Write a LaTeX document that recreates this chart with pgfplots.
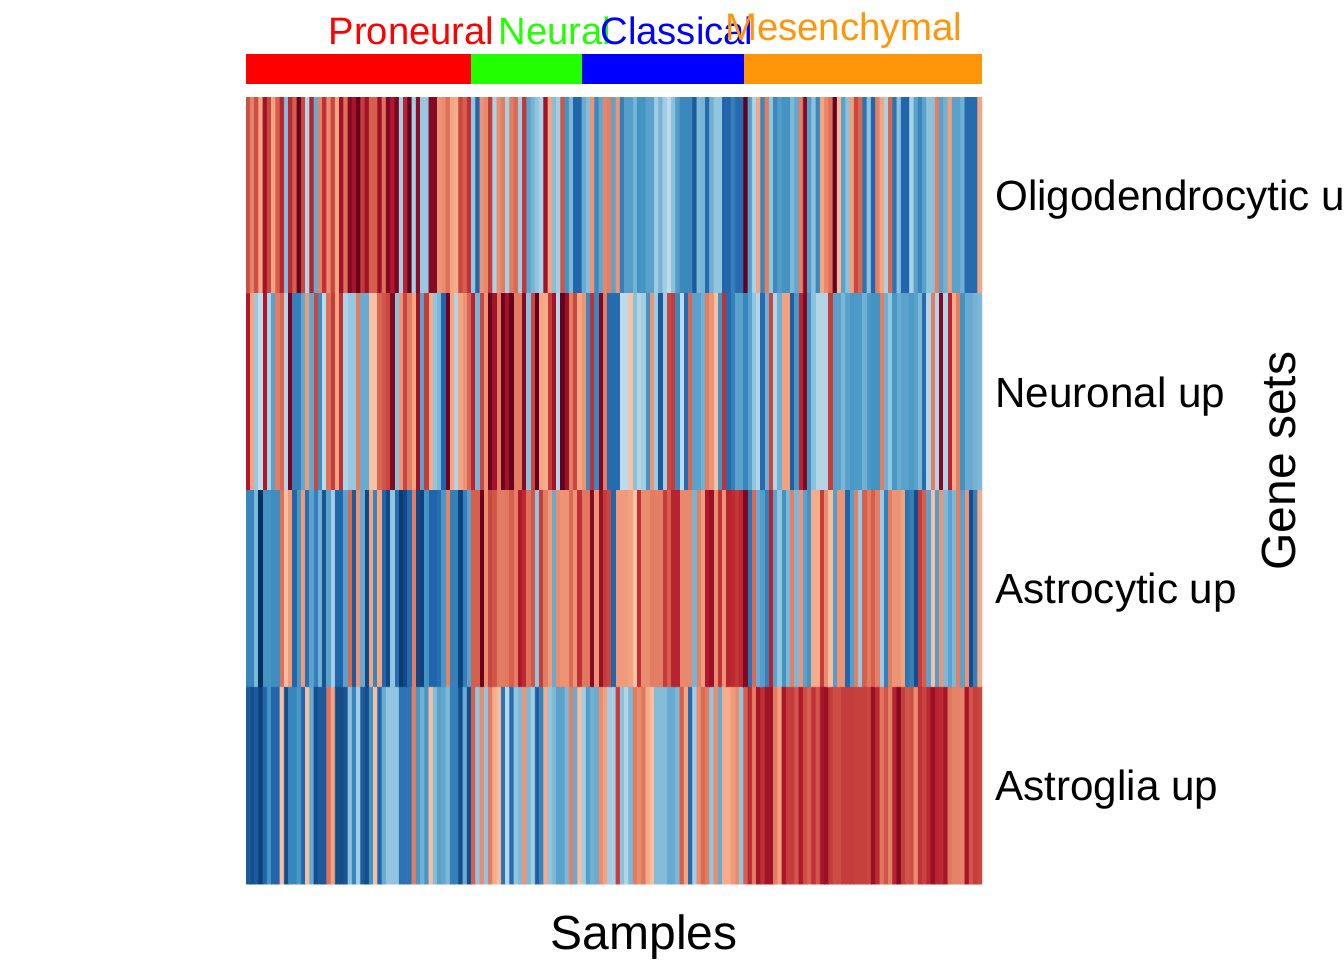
\documentclass[border=0pt]{standalone}
\usepackage{fontspec}
\setmainfont{Liberation Sans}
\usepackage{pgfplots}
\pgfplotsset{compat=1.18}
\definecolor{pn}{RGB}{255,0,0}
\definecolor{ne}{RGB}{33,255,0}
\definecolor{cl}{RGB}{0,0,255}
\definecolor{me}{RGB}{255,150,9}
\begin{document}
% 1 px of the reference = 0.5pt, origin at the bottom left
\begin{tikzpicture}[x=0.5pt,y=0.5pt]
\path[use as bounding box] (0,0) rectangle (1344,960);
% subtype bar
\begin{axis}[at={(123pt,438pt)},anchor=south west,scale only axis,width=368pt,height=15pt,
  hide axis,xmin=0,xmax=173,ymin=0,ymax=1,clip=true]
  \addplot[fill=pn,draw=none] coordinates {(0,0)(53,0)(53,1)(0,1)} -- cycle;
  \addplot[fill=ne,draw=none] coordinates {(53,0)(79,0)(79,1)(53,1)} -- cycle;
  \addplot[fill=cl,draw=none] coordinates {(79,0)(117,0)(117,1)(79,1)} -- cycle;
  \addplot[fill=me,draw=none] coordinates {(117,0)(173,0)(173,1)(117,1)} -- cycle;
\end{axis}
% heatmap
\begin{axis}[at={(123pt,38pt)},anchor=south west,scale only axis,width=368pt,height=393.5pt,
  hide axis,xmin=-0.5,xmax=172.5,ymin=-0.5,ymax=3.5,y dir=reverse,
  point meta min=-1,point meta max=1,
  colormap={rdbu}{rgb255(0pt)=(5,48,97) rgb255(15pt)=(33,102,172) rgb255(32pt)=(67,147,195)
    rgb255(60pt)=(146,197,222) rgb255(80pt)=(209,229,240) rgb255(100pt)=(247,247,247)
    rgb255(120pt)=(253,219,199) rgb255(135pt)=(244,165,130) rgb255(155pt)=(214,96,77)
    rgb255(175pt)=(178,24,43) rgb255(197pt)=(103,0,31) rgb255(200pt)=(103,0,31)}]
\addplot[matrix plot*,mesh/cols=173,point meta=explicit] coordinates {
(0,0)[.6](1,0)[.45](2,0)[.6](3,0)[.35](4,0)[.8](5,0)[.62](6,0)[.35](7,0)[.55](8,0)[.72](9,0)[-.45]
(10,0)[.7](11,0)[.55](12,0)[1](13,0)[.62](14,0)[-.3](15,0)[.72](16,0)[-.55](17,0)[.45](18,0)[.68](19,0)[.42]
(20,0)[.62](21,0)[.35](22,0)[.8](23,0)[.5](24,0)[.88](25,0)[.78](26,0)[.97](27,0)[.65](28,0)[.8](29,0)[.55]
(30,0)[.55](31,0)[.82](32,0)[.5](33,0)[.9](34,0)[.75](35,0)[.92](36,0)[-.35](37,0)[.72](38,0)[1](39,0)[-.35]
(40,0)[.85](41,0)[-.38](42,0)[-.38](43,0)[.88](44,0)[.88](45,0)[.4](46,0)[.42](47,0)[.5](48,0)[.35](49,0)[.33]
(50,0)[.62](51,0)[.55](52,0)[.68](53,0)[-.4](54,0)[-.85](55,0)[.4](56,0)[.43](57,0)[.65](58,0)[-.32](59,0)[.42]
(60,0)[.47](61,0)[-.33](62,0)[.47](63,0)[.52](64,0)[-.35](65,0)[.66](66,0)[-.6](67,0)[-.5](68,0)[-.4](69,0)[-.32]
(70,0)[.8](71,0)[.35](72,0)[-.45](73,0)[-.35](74,0)[.58](75,0)[-.68](76,0)[-.47](77,0)[-.85](78,0)[-.85](79,0)[-.55]
(80,0)[-.45](81,0)[.4](82,0)[-.72](83,0)[-.57](84,0)[.44](85,0)[.46](86,0)[-.6](87,0)[.4](88,0)[-.75](89,0)[-.62]
(90,0)[-.62](91,0)[-.5](92,0)[-.68](93,0)[-.68](94,0)[-.6](95,0)[-.6](96,0)[-.36](97,0)[-.5](98,0)[-.35](99,0)[-.26]
(100,0)[-.42](101,0)[-.62](102,0)[-.72](103,0)[-.72](104,0)[-.72](105,0)[-.88](106,0)[-.47](107,0)[-.5](108,0)[-.83](109,0)[-.52]
(110,0)[-.4](111,0)[-.4](112,0)[-.85](113,0)[-.85](114,0)[-.75](115,0)[-.83](116,0)[-.83](117,0)[1](118,0)[-.62](119,0)[-.32]
(120,0)[.35](121,0)[-.72](122,0)[.47](123,0)[-.4](124,0)[-.72](125,0)[-.62](126,0)[-.68](127,0)[-.68](128,0)[-.47](129,0)[-.57]
(130,0)[.46](131,0)[.88](132,0)[-.62](133,0)[-.42](134,0)[-.72](135,0)[.35](136,0)[.43](137,0)[.5](138,0)[1](139,0)[.3]
(140,0)[-.6](141,0)[-.42](142,0)[.37](143,0)[.62](144,0)[.53](145,0)[-.8](146,0)[-.42](147,0)[-.85](148,0)[.46](149,0)[.35]
(150,0)[-.32](151,0)[.53](152,0)[-.8](153,0)[-.42](154,0)[-.85](155,0)[-.85](156,0)[-.32](157,0)[-.6](158,0)[-.73](159,0)[-.6]
(160,0)[-.42](161,0)[-.42](162,0)[.46](163,0)[-.6](164,0)[-.52](165,0)[.37](166,0)[-.6](167,0)[-.6](168,0)[-.52](169,0)[-.83]
(170,0)[-.83](171,0)[-.83](172,0)[.35]

(0,1)[.75](1,1)[.35](2,1)[-.38](3,1)[-.25](4,1)[.75](5,1)[-.32](6,1)[-.6](7,1)[.47](8,1)[.53](9,1)[-.3]
(10,1)[.92](11,1)[-.75](12,1)[-.75](13,1)[-.57](14,1)[.38](15,1)[-.57](16,1)[.62](17,1)[-.7](18,1)[-.27](19,1)[.5]
(20,1)[.65](21,1)[.35](22,1)[.68](23,1)[-.32](24,1)[-.38](25,1)[-.38](26,1)[.47](27,1)[-.55](28,1)[-.55](29,1)[.27]
(30,1)[.27](31,1)[.53](32,1)[.58](33,1)[.62](34,1)[.9](35,1)[-.42](36,1)[.4](37,1)[.62](38,1)[.47](39,1)[.35]
(40,1)[.8](41,1)[-.6](42,1)[.65](43,1)[.33](44,1)[-.4](45,1)[-.47](46,1)[-.85](47,1)[.95](48,1)[.35](49,1)[-.3]
(50,1)[.35](51,1)[.4](52,1)[.53](53,1)[.72](54,1)[-.5](55,1)[.62](56,1)[.4](57,1)[.95](58,1)[.8](59,1)[.47]
(60,1)[.95](61,1)[.8](62,1)[1](63,1)[.47](64,1)[.47](65,1)[.88](66,1)[-.42](67,1)[.62](68,1)[.97](69,1)[.35]
(70,1)[.33](71,1)[.65](72,1)[.8](73,1)[-.3](74,1)[.97](75,1)[.82](76,1)[.47](77,1)[.62](78,1)[.35](79,1)[.4]
(80,1)[-.72](81,1)[.68](82,1)[-.72](83,1)[.9](84,1)[.47](85,1)[-.83](86,1)[-.83](87,1)[-.83](88,1)[-.26](89,1)[-.26]
(90,1)[.27](91,1)[-.42](92,1)[-.3](93,1)[-.35](94,1)[-.68](95,1)[.4](96,1)[-.36](97,1)[-.88](98,1)[-.35](99,1)[.62]
(100,1)[.65](101,1)[-.72](102,1)[-.27](103,1)[-.83](104,1)[.53](105,1)[-.6](106,1)[-.6](107,1)[-.52](108,1)[.47](109,1)[.4]
(110,1)[.27](111,1)[-.68](112,1)[.68](113,1)[-.83](114,1)[-.75](115,1)[-.6](116,1)[-.6](117,1)[-.73](118,1)[-.6](119,1)[-.4]
(120,1)[-.3](121,1)[-.83](122,1)[-.52](123,1)[.62](124,1)[-.3](125,1)[-.52](126,1)[.36](127,1)[.36](128,1)[-.87](129,1)[-.66]
(130,1)[.72](131,1)[.9](132,1)[-.68](133,1)[-.42](134,1)[-.3](135,1)[-.3](136,1)[-.3](137,1)[.65](138,1)[-.6](139,1)[-.6]
(140,1)[-.47](141,1)[-.6](142,1)[-.66](143,1)[-.64](144,1)[-.64](145,1)[-.52](146,1)[-.64](147,1)[-.68](148,1)[-.68](149,1)[.47]
(150,1)[-.52](151,1)[-.4](152,1)[-.66](153,1)[-.55](154,1)[-.6](155,1)[-.6](156,1)[-.64](157,1)[-.6](158,1)[-.47](159,1)[-.83]
(160,1)[-.3](161,1)[.47](162,1)[-.3](163,1)[.88](164,1)[-.3](165,1)[.72](166,1)[.33](167,1)[.46](168,1)[-.68](169,1)[-.55]
(170,1)[-.55](171,1)[-.5](172,1)[-.47]

(0,2)[-.73](1,2)[-.73](2,2)[-.47](3,2)[-1](4,2)[-.68](5,2)[-.68](6,2)[-.7](7,2)[-.7](8,2)[.5](9,2)[.28]
(10,2)[.38](11,2)[-.85](12,2)[-.66](13,2)[.38](14,2)[-.82](15,2)[-.6](16,2)[-.75](17,2)[-.52](18,2)[-.9](19,2)[-.6]
(20,2)[-.35](21,2)[-.85](22,2)[-.85](23,2)[-.6](24,2)[.53](25,2)[-.88](26,2)[.4](27,2)[-.55](28,2)[-.93](29,2)[.35]
(30,2)[-.73](31,2)[.35](32,2)[-.85](33,2)[-.93](34,2)[-.4](35,2)[-.83](36,2)[-.97](37,2)[-.93](38,2)[-.83](39,2)[.47]
(40,2)[-.93](41,2)[-.95](42,2)[-.68](43,2)[-.85](44,2)[-.85](45,2)[-.82](46,2)[-.66](47,2)[.45](48,2)[-.75](49,2)[-.75]
(50,2)[-.95](51,2)[-.75](52,2)[-.6](53,2)[.55](54,2)[.55](55,2)[.97](56,2)[.42](57,2)[.62](58,2)[.58](59,2)[.47]
(60,2)[.47](61,2)[.48](62,2)[.55](63,2)[.46](64,2)[.75](65,2)[.7](66,2)[.5](67,2)[.58](68,2)[-.4](69,2)[.65]
(70,2)[.47](71,2)[.38](72,2)[-.55](73,2)[.42](74,2)[.4](75,2)[.4](76,2)[.52](77,2)[.4](78,2)[.68](79,2)[.48]
(80,2)[.48](81,2)[.88](82,2)[.4](83,2)[.82](84,2)[.65](85,2)[.62](86,2)[-.85](87,2)[.38](88,2)[.38](89,2)[.38]
(90,2)[.36](91,2)[.27](92,2)[.68](93,2)[.42](94,2)[.42](95,2)[.47](96,2)[.46](97,2)[.46](98,2)[.65](99,2)[.55]
(100,2)[.72](101,2)[.72](102,2)[.43](103,2)[.43](104,2)[.43](105,2)[-.5](106,2)[.46](107,2)[.37](108,2)[.75](109,2)[.82]
(110,2)[.42](111,2)[.68](112,2)[.4](113,2)[.72](114,2)[.7](115,2)[.66](116,2)[.7](117,2)[.9](118,2)[-.8](119,2)[.52]
(120,2)[-.55](121,2)[-.62](122,2)[-.75](123,2)[.72](124,2)[-.6](125,2)[-.4](126,2)[-.68](127,2)[-.47](128,2)[.46](129,2)[-.47]
(130,2)[.4](131,2)[-.6](132,2)[-.68](133,2)[.33](134,2)[.33](135,2)[.65](136,2)[.42](137,2)[.28](138,2)[-.62](139,2)[.4]
(140,2)[.4](141,2)[-.85](142,2)[-.62](143,2)[.46](144,2)[-.38](145,2)[.55](146,2)[.47](147,2)[.55](148,2)[.46](149,2)[-.36]
(150,2)[-.75](151,2)[.47](152,2)[.4](153,2)[.4](154,2)[.36](155,2)[-.8](156,2)[-.75](157,2)[-.92](158,2)[.65](159,2)[.55]
(160,2)[-.6](161,2)[.28](162,2)[-.62](163,2)[.4](164,2)[-.47](165,2)[-.6](166,2)[-.47](167,2)[.46](168,2)[-.6](169,2)[.4]
(170,2)[-.92](171,2)[-.75](172,2)[.33]

(0,3)[-.88](1,3)[-.92](2,3)[-.88](3,3)[-.95](4,3)[-.85](5,3)[-.68](6,3)[-.85](7,3)[-.85](8,3)[.28](9,3)[-.92]
(10,3)[-.73](11,3)[-.73](12,3)[-.66](13,3)[-.85](14,3)[.28](15,3)[-.55](16,3)[-.92](17,3)[-.88](18,3)[-.88](19,3)[.5]
(20,3)[.36](21,3)[-.92](22,3)[-.92](23,3)[-.9](24,3)[-.42](25,3)[-.73](26,3)[-.35](27,3)[-.88](28,3)[-.92](29,3)[-.68]
(30,3)[.28](31,3)[-.85](32,3)[-.55](33,3)[-.4](34,3)[-.4](35,3)[-.4](36,3)[-.8](37,3)[-.8](38,3)[-.8](39,3)[.47]
(40,3)[-.66](41,3)[-.52](42,3)[-.66](43,3)[.28](44,3)[-.45](45,3)[-.6](46,3)[-.57](47,3)[-.47](48,3)[-.75](49,3)[-.75]
(50,3)[-.92](51,3)[-.55](52,3)[-.92](53,3)[.55](54,3)[-.4](55,3)[.42](56,3)[-.4](57,3)[.47](58,3)[.33](59,3)[.28]
(60,3)[-.8](61,3)[-.28](62,3)[-.82](63,3)[-.4](64,3)[-.47](65,3)[.4](66,3)[-.47](67,3)[-.35](68,3)[-.87](69,3)[-.73]
(70,3)[.33](71,3)[-.4](72,3)[-.47](73,3)[-.6](74,3)[-.6](75,3)[-.47](76,3)[.46](77,3)[-.55](78,3)[.28](79,3)[-.35]
(80,3)[-.62](81,3)[-.52](82,3)[-.55](83,3)[.42](84,3)[.36](85,3)[-.35](86,3)[-.33](87,3)[.65](88,3)[-.42](89,3)[-.3]
(90,3)[-.47](91,3)[.47](92,3)[.42](93,3)[.48](94,3)[.33](95,3)[.28](96,3)[-.45](97,3)[-.45](98,3)[-.45](99,3)[-.55]
(100,3)[-.55](101,3)[-.47](102,3)[.55](103,3)[.35](104,3)[-.83](105,3)[-.35](106,3)[.42](107,3)[.52](108,3)[.47](109,3)[-.4]
(110,3)[.42](111,3)[-.55](112,3)[.33](113,3)[.33](114,3)[.38](115,3)[.42](116,3)[-.4](117,3)[.55](118,3)[.7](119,3)[.47]
(120,3)[.78](121,3)[.68](122,3)[.8](123,3)[.8](124,3)[.47](125,3)[.37](126,3)[.78](127,3)[.65](128,3)[.65](129,3)[.58]
(130,3)[.75](131,3)[.6](132,3)[.55](133,3)[.68](134,3)[.58](135,3)[.78](136,3)[.82](137,3)[.65](138,3)[.6](139,3)[.6]
(140,3)[.65](141,3)[.65](142,3)[.65](143,3)[.64](144,3)[.64](145,3)[.64](146,3)[.62](147,3)[.82](148,3)[.7](149,3)[.48]
(150,3)[.58](151,3)[.46](152,3)[.72](153,3)[.88](154,3)[.65](155,3)[.58](156,3)[.6](157,3)[.42](158,3)[.68](159,3)[.63]
(160,3)[.7](161,3)[.82](162,3)[.72](163,3)[.7](164,3)[.78](165,3)[.48](166,3)[.45](167,3)[.45](168,3)[.45](169,3)[.78]
(170,3)[.58](171,3)[.65](172,3)[.62]
};
\end{axis}
% subtype labels
\node[anchor=base,text=pn,font=\fontsize{19.1}{19}\selectfont,inner sep=0pt] at (411.5,915) {Proneural};
\node[anchor=base,text=ne,font=\fontsize{19.1}{19}\selectfont,inner sep=0pt] at (555,915) {Neural};
\node[anchor=base,text=cl,font=\fontsize{19.1}{19}\selectfont,inner sep=0pt] at (677,915) {Classical};
\node[anchor=base,text=me,font=\fontsize{19.2}{19}\selectfont,inner sep=0pt] at (843.5,919) {Mesenchymal};
% row labels
\node[anchor=base west,font=\fontsize{21.1}{21}\selectfont,inner sep=0pt] at (995,749) {Oligodendrocytic up};
\node[anchor=base west,font=\fontsize{21.1}{21}\selectfont,inner sep=0pt] at (995,552) {Neuronal up};
\node[anchor=base west,font=\fontsize{21.1}{21}\selectfont,inner sep=0pt] at (995,356.5) {Astrocytic up};
\node[anchor=base west,font=\fontsize{21.1}{21}\selectfont,inner sep=0pt] at (995,160) {Astroglia up};
% axis names
\node[anchor=base,font=\fontsize{24}{24}\selectfont,inner sep=0pt] at (644,11) {Samples};
\node[anchor=base,rotate=90,font=\fontsize{24}{24}\selectfont,inner sep=0pt] at (1295,499) {Gene sets};
\end{tikzpicture}
\end{document}
